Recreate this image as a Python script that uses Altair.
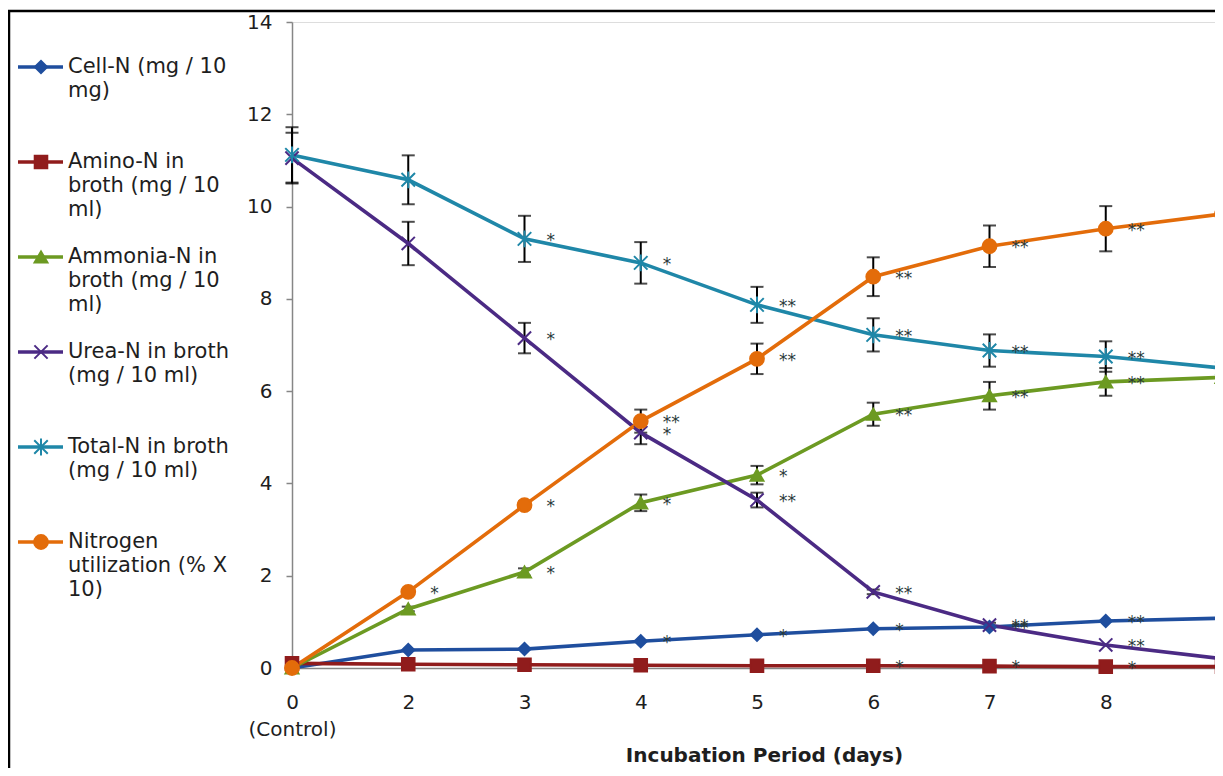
import altair as alt
import pandas as pd

# ---------------- data ----------------
days = ["0", "2", "3", "4", "5", "6", "7", "8", "9"]

series_names = [
    "Cell-N (mg / 10 mg)",
    "Amino-N in broth (mg / 10 ml)",
    "Ammonia-N in broth (mg / 10 ml)",
    "Urea-N in broth (mg / 10 ml)",
    "Total-N in broth (mg / 10 ml)",
    "Nitrogen utilization (% X 10)",
]
legend_labels = [
    "Cell-N (mg / 10\nmg)",
    "Amino-N in\nbroth (mg / 10\nml)",
    "Ammonia-N in\nbroth (mg / 10\nml)",
    "Urea-N in broth\n(mg / 10 ml)",
    "Total-N in broth\n(mg / 10 ml)",
    "Nitrogen\nutilization (% X\n10)",
]

cell_n = [0.0, 0.39, 0.41, 0.58, 0.72, 0.85, 0.89, 1.02, 1.08]
amino_n = [0.10, 0.08, 0.07, 0.06, 0.05, 0.05, 0.04, 0.03, 0.03]
ammonia_n = [0.0, 1.28, 2.08, 3.58, 4.18, 5.50, 5.90, 6.20, 6.30]
urea_n = [11.05, 9.20, 7.15, 5.10, 3.64, 1.65, 0.93, 0.50, 0.20]
total_n = [11.12, 10.58, 9.30, 8.78, 7.87, 7.22, 6.88, 6.75, 6.50]
n_util = [0.0, 1.65, 3.53, 5.35, 6.70, 8.48, 9.14, 9.52, 9.84]

cell_err = [0, 0, 0, 0, 0, 0, 0, 0, 0]
amino_err = [0, 0, 0, 0, 0, 0, 0, 0, 0]
ammonia_err = [0, 0.05, 0.08, 0.18, 0.20, 0.25, 0.30, 0.30, 0.30]
urea_err = [0.55, 0.47, 0.33, 0.25, 0.16, 0.05, 0.05, 0, 0]
total_err = [0.60, 0.53, 0.50, 0.45, 0.39, 0.36, 0.35, 0.33, 0.30]
util_err = [0, 0.05, 0.08, 0.25, 0.33, 0.42, 0.45, 0.49, 0.50]

cell_sig = ["", "", "", "*", "*", "*", "**", "**", ""]
amino_sig = ["", "", "", "", "", "*", "*", "*", ""]
ammonia_sig = ["", "", "*", "*", "*", "**", "**", "**", ""]
urea_sig = ["", "", "*", "*", "**", "**", "**", "**", ""]
total_sig = ["", "", "*", "*", "**", "**", "**", "**", ""]
util_sig = ["", "*", "*", "**", "**", "**", "**", "**", ""]

colors = ["#1F4E9E", "#901C1C", "#6C9A22", "#4B2A84", "#1F87A8", "#E36C0A"]
shapes = [
    "diamond",
    "square",
    "triangle-up",
    "M-1,-1L1,1M-1,1L1,-1",
    "M-1,-1L1,1M-1,1L1,-1M0,-1.25L0,1.25",
    "circle",
]
sizes = [150, 190, 170, 170, 190, 210]

values = [cell_n, amino_n, ammonia_n, urea_n, total_n, n_util]
errors = [cell_err, amino_err, ammonia_err, urea_err, total_err, util_err]
sigs = [cell_sig, amino_sig, ammonia_sig, urea_sig, total_sig, util_sig]

rows = []
for name, vals, errs, sg in zip(series_names, values, errors, sigs):
    for d, v, e, s in zip(days, vals, errs, sg):
        rows.append({"day": d, "series": name, "value": v,
                     "lo": v - e, "hi": v + e, "err": e, "sig": s})
df = pd.DataFrame(rows)
leg_df = pd.DataFrame({"series": series_names, "label": legend_labels})

FONT = "DejaVu Sans"
TEXT = "#1e1e1e"
AXIS_GRAY = "#868686"

PLOT_W = 923      # visible part of the plot area (the picture is cropped on the right)
X_RANGE = 930     # the x scale runs a little past the visible edge, as in the crop

color_scale = alt.Scale(domain=series_names, range=colors)
shape_scale = alt.Scale(domain=series_names, range=shapes)
size_scale = alt.Scale(domain=series_names, range=sizes)

x_enc = alt.X(
    "day:O", sort=days,
    scale=alt.Scale(type="point", padding=0, range=[0, X_RANGE]),
    axis=alt.Axis(
        title="Incubation Period (days)", labelAngle=0, ticks=False,
        domainColor=AXIS_GRAY, domainWidth=1.5,
        labelExpr="datum.value == '0' ? ['0', '(Control)'] : datum.label",
        labelFontSize=20, labelColor=TEXT, labelPadding=24, labelLineHeight=27,
        labelFont=FONT, titleFont=FONT, titleX=472,
        titleFontSize=20, titleFontWeight="bold", titleColor=TEXT, titlePadding=6,
    ),
)
y_scale = alt.Scale(domain=[0, 14], nice=False, zero=True)
y_axis = alt.Axis(
    values=list(range(0, 15, 2)), grid=False, title=None,
    tickSize=6, tickColor=AXIS_GRAY, tickWidth=1.5,
    domainColor=AXIS_GRAY, domainWidth=1.5,
    labelFontSize=20, labelColor=TEXT, labelPadding=14, labelFont=FONT,
)

base = alt.Chart(df).encode(x=x_enc)

err_filter = alt.datum.err > 0
err_rules = base.mark_rule(color="black", strokeWidth=2).encode(
    y=alt.Y("lo:Q", scale=y_scale, axis=y_axis), y2="hi:Q"
).transform_filter(err_filter)
err_lo = base.mark_tick(color="black", thickness=2, size=13).encode(
    y=alt.Y("lo:Q", scale=y_scale)
).transform_filter(err_filter)
err_hi = base.mark_tick(color="black", thickness=2, size=13).encode(
    y=alt.Y("hi:Q", scale=y_scale)
).transform_filter(err_filter)

lines = base.mark_line(strokeWidth=3.6).encode(
    y=alt.Y("value:Q", scale=y_scale, axis=y_axis),
    color=alt.Color("series:N", scale=color_scale, legend=None),
    detail="series:N",
)
points = base.mark_point(filled=True, strokeWidth=2, opacity=1).encode(
    y=alt.Y("value:Q", scale=y_scale),
    color=alt.Color("series:N", scale=color_scale, legend=None),
    stroke=alt.Stroke("series:N", scale=color_scale, legend=None),
    shape=alt.Shape("series:N", scale=shape_scale, legend=None),
    size=alt.Size("series:N", scale=size_scale, legend=None),
)
stars = base.mark_text(
    align="left", baseline="middle", dx=22, dy=2, fontSize=17,
    font=FONT, color="#2a3a3a",
).encode(
    y=alt.Y("value:Q", scale=y_scale),
    text="sig:N",
).transform_filter(alt.datum.sig != "")

main = alt.layer(err_rules, err_lo, err_hi, lines, points, stars)

# ---------------- legend (left side) ----------------
leg_base = alt.Chart(leg_df).encode(
    y=alt.Y("series:N", sort=series_names, axis=None,
            scale=alt.Scale(type="point", range=[45, 520], padding=0)),
)
leg_rule = leg_base.mark_rule(strokeWidth=3.6).encode(
    x=alt.value(-274), x2=alt.value(-229),
    color=alt.Color("series:N", scale=color_scale, legend=None),
)
leg_pts = leg_base.mark_point(filled=True, strokeWidth=2, opacity=1).encode(
    x=alt.value(-251),
    color=alt.Color("series:N", scale=color_scale, legend=None),
    stroke=alt.Stroke("series:N", scale=color_scale, legend=None),
    shape=alt.Shape("series:N", scale=shape_scale, legend=None),
    size=alt.Size("series:N", scale=size_scale, legend=None),
)
leg_text = leg_base.mark_text(
    align="left", baseline="middle", lineBreak="\n", lineHeight=24,
    fontSize=21, font=FONT, color=TEXT,
).encode(x=alt.value(-224), text="label:N")

frame_df = pd.DataFrame({"k": [0]})
frame_left = alt.Chart(frame_df).mark_rule(color="black", strokeWidth=2.5).encode(
    x=alt.value(-283), y=alt.value(-11), y2=alt.value(800)
)
frame_top = alt.Chart(frame_df).mark_rule(color="black", strokeWidth=2.5).encode(
    x=alt.value(-284), x2=alt.value(1000), y=alt.value(-11)
)

legend = alt.layer(frame_left, frame_top, leg_rule, leg_pts, leg_text)

chart = alt.layer(main, legend).resolve_scale(y="independent").properties(
    width=PLOT_W, height=646,
    autosize=alt.AutoSizeParams(type="none"),
    padding={"left": 284, "top": 14, "right": 0, "bottom": 100},
).configure_view(stroke=None).configure(font=FONT)

chart.save("out.html", embed_options={"renderer": "svg", "actions": False})
